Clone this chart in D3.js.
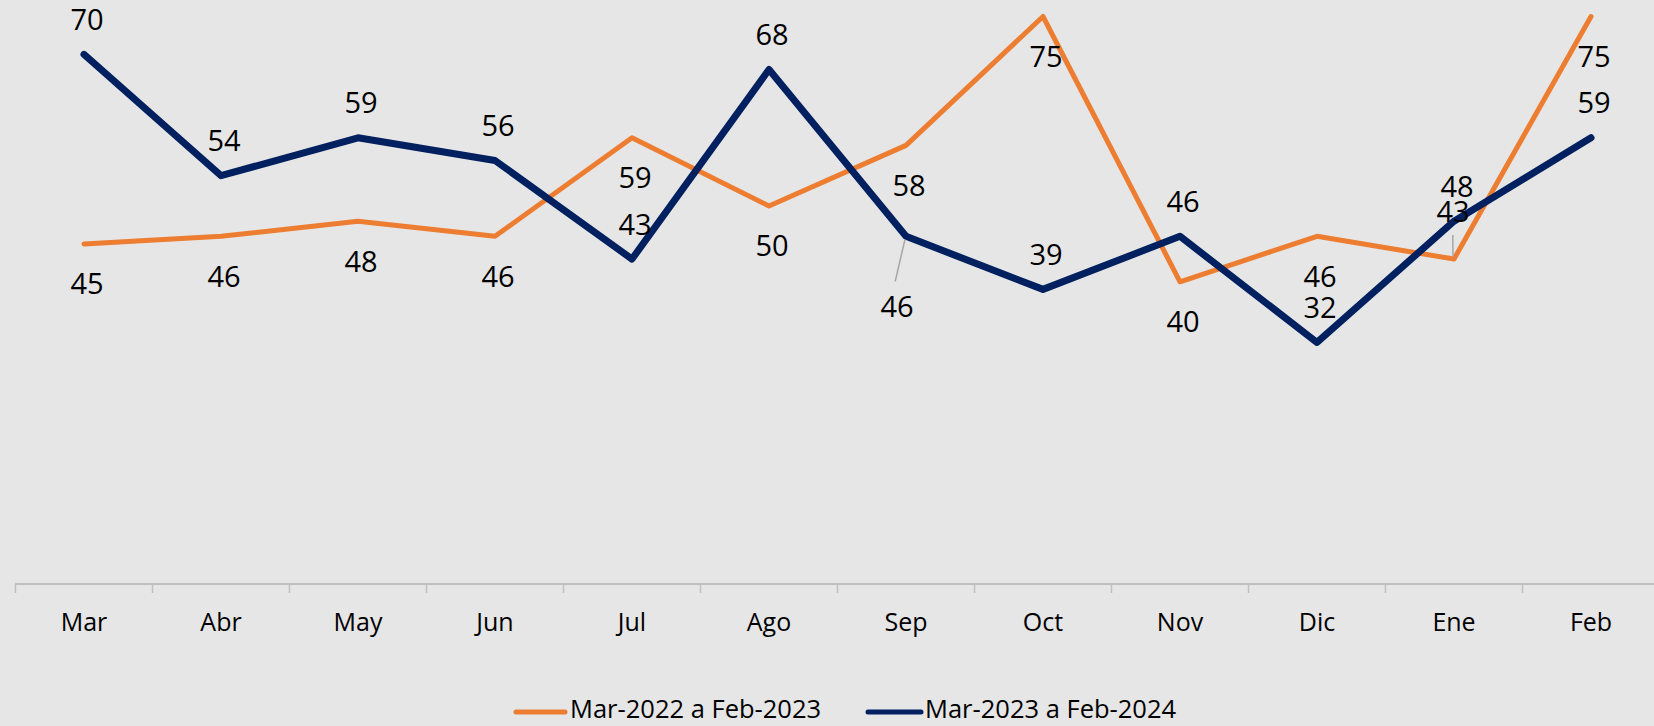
<!DOCTYPE html>
<html>
<head>
<meta charset="utf-8">
<script src="https://cdn.jsdelivr.net/npm/d3@7"></script>
<style>
  html, body { margin: 0; padding: 0; background: #E6E6E6; }
  svg { display: block; }
</style>
</head>
<body>
<svg id="chart" width="1654" height="726"></svg>
<script>
// ---- data ----
const categories = ["Mar", "Abr", "May", "Jun", "Jul", "Ago", "Sep", "Oct", "Nov", "Dic", "Ene", "Feb"];
const seriesNames = ["Mar-2022 a Feb-2023", "Mar-2023 a Feb-2024"];
const values2022 = [45, 46, 48, 46, 59, 50, 58, 75, 40, 46, 43, 75];
const values2023 = [70, 54, 59, 56, 43, 68, 46, 39, 46, 32, 48, 59];

// ---- layout / style ----
const W = 1654, H = 726;
const colors = ["#ED7D31", "#002060"];
const widths = [5, 7];
const svg = d3.select("#chart");
svg.append("rect").attr("width", W).attr("height", H).attr("fill", "#E6E6E6");

const x = d3.scaleBand().domain(categories).range([15.5, 15.5 + 137 * 12]).padding(0);
const cx = c => x(c) + x.bandwidth() / 2;
const y = d3.scaleLinear().domain([0, 80]).range([585, 585 - 80 * 7.58]);

// x axis
const axisY = 584;
const axis = d3.axisBottom(x).tickSize(0).tickFormat(d => d);
const gAxis = svg.append("g").attr("transform", `translate(0,${axisY})`).call(axis);
gAxis.select(".domain").remove();
gAxis.selectAll("text")
  .attr("y", 0).attr("dy", null)
  .attr("transform", "translate(0,47)")
  .attr("font-family", "'Open Sans', sans-serif")
  .attr("font-size", 25).attr("fill", "#000");
svg.append("line").attr("x1", 15).attr("x2", W).attr("y1", axisY).attr("y2", axisY)
  .attr("stroke", "#BFBFBF").attr("stroke-width", 2);
// category boundary ticks
const bounds = categories.map(c => x(c));
svg.selectAll("line.tk").data(bounds).enter().append("line")
  .attr("class", "tk")
  .attr("x1", d => d).attr("x2", d => d)
  .attr("y1", axisY).attr("y2", axisY + 9)
  .attr("stroke", "#BFBFBF").attr("stroke-width", 1.5);

// lines
const allSeries = [values2022, values2023];
const line = d3.line().x((d, i) => cx(categories[i])).y(d => y(d));
allSeries.forEach((vals, s) => {
  svg.append("path").datum(vals)
    .attr("d", line)
    .attr("fill", "none")
    .attr("stroke", colors[s])
    .attr("stroke-width", widths[s])
    .attr("stroke-linejoin", "round")
    .attr("stroke-linecap", "round");
});

// data labels: default offsets (text centre relative to point)
const defaultDy = [40, -35];
const overrides = { "0-10": [-1, -48], "1-6": [-9, 70] };
const fs = 29;
const labelG = svg.append("g");
allSeries.forEach((vals, s) => {
  vals.forEach((v, i) => {
    const px = cx(categories[i]), py = y(v);
    const key = s + "-" + i;
    let ox = 3, oy = defaultDy[s];
    if (overrides[key]) { ox = overrides[key][0]; oy = overrides[key][1]; }
    if (overrides[key]) {
      // leader line
      const ty = py + oy + (oy > 0 ? -25 : 24);
      labelG.append("line")
        .attr("x1", px - 1).attr("y1", py + (oy > 0 ? 3 : -2))
        .attr("x2", px + ox * 1.2).attr("y2", ty)
        .attr("stroke", "#A6A6A6").attr("stroke-width", 1.5);
    }
    labelG.append("text")
      .attr("x", px + ox)
      .attr("y", py + oy + fs * 0.36)
      .attr("text-anchor", "middle")
      .attr("font-family", "'Open Sans', sans-serif")
      .attr("font-size", fs)
      .attr("fill", "#000")
      .text(v);
  });
});

// legend
const legendItems = [
  { name: seriesNames[0], color: colors[0], x1: 516, x2: 565, tx: 570 },
  { name: seriesNames[1], color: colors[1], x1: 868, x2: 921, tx: 925 }
];
const lg = svg.append("g");
legendItems.forEach(it => {
  lg.append("line").attr("x1", it.x1).attr("x2", it.x2).attr("y1", 712).attr("y2", 712)
    .attr("stroke", it.color).attr("stroke-width", 5).attr("stroke-linecap", "round");
  lg.append("text").attr("x", it.tx).attr("y", 718)
    .attr("font-family", "'Open Sans', sans-serif").attr("font-size", 25.5)
    .attr("fill", "#000").text(it.name);
});
</script>
</body>
</html>
